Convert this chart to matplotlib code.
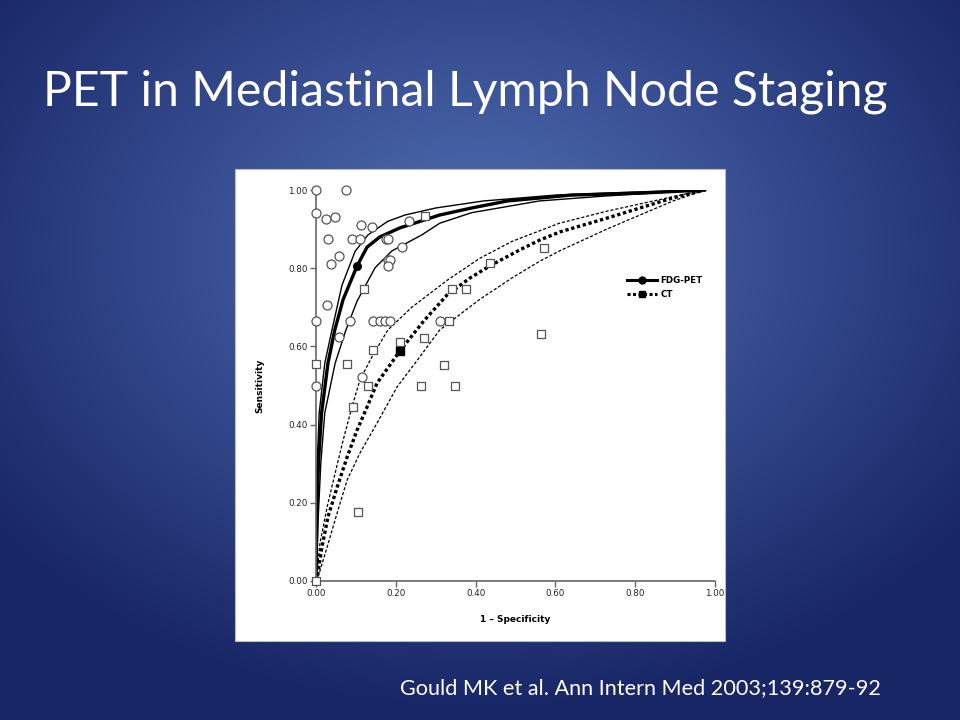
import numpy as np
import matplotlib
matplotlib.use("Agg")
from matplotlib import pyplot as plt
from matplotlib.patches import Rectangle
from matplotlib.lines import Line2D

# individual studies (1 - specificity, sensitivity)
pet_fpr = [0.00, 0.075, 0.00, 0.025, 0.048, 0.03, 0.113, 0.14, 0.09, 0.11,
           0.058, 0.038, 0.175, 0.18, 0.215, 0.233, 0.18, 0.186, 0.18, 0.028,
           0.00, 0.085, 0.143, 0.16, 0.173, 0.185, 0.31, 0.058, 0.115, 0.00]
pet_sens = [1.00, 1.00, 0.94, 0.925, 0.93, 0.875, 0.91, 0.905, 0.875, 0.875,
            0.83, 0.81, 0.875, 0.875, 0.855, 0.92, 0.82, 0.82, 0.805, 0.707,
            0.665, 0.665, 0.665, 0.665, 0.665, 0.665, 0.665, 0.625, 0.522, 0.50]

ct_fpr = [0.273, 0.12, 0.341, 0.376, 0.436, 0.571, 0.333, 0.271, 0.21, 0.143,
          0.00, 0.078, 0.321, 0.13, 0.263, 0.348, 0.564, 0.093, 0.105, 0.00]
ct_sens = [0.934, 0.747, 0.747, 0.747, 0.813, 0.852, 0.665, 0.621, 0.61, 0.59,
           0.555, 0.555, 0.552, 0.50, 0.50, 0.50, 0.632, 0.445, 0.176, 0.00]

# summary points
pet_sum = (0.103, 0.806)
ct_sum = (0.21, 0.588)

# summary ROC curves
pet_x = [0, 0.002, 0.006, 0.014, 0.03, 0.047, 0.068, 0.103, 0.128, 0.16, 0.21,
         0.31, 0.39, 0.48, 0.64, 0.81, 0.975]
pet_y = [0, 0.15, 0.3, 0.43, 0.557, 0.642, 0.72, 0.806, 0.854, 0.88, 0.903,
         0.936, 0.954, 0.972, 0.987, 0.992, 1.0]
pet_hi_x = [0, 0.001, 0.003, 0.008, 0.022, 0.04, 0.065, 0.098, 0.13, 0.18,
            0.223, 0.3, 0.42, 0.6, 0.8, 0.975]
pet_hi_y = [0, 0.15, 0.3, 0.43, 0.557, 0.642, 0.756, 0.843, 0.885, 0.92,
            0.936, 0.954, 0.972, 0.987, 0.995, 1.0]
pet_lo_x = [0, 0.005, 0.012, 0.022, 0.048, 0.075, 0.103, 0.148, 0.19, 0.265,
            0.31, 0.39, 0.56, 0.73, 0.975]
pet_lo_y = [0, 0.15, 0.3, 0.43, 0.557, 0.642, 0.716, 0.801, 0.844, 0.885,
            0.915, 0.942, 0.972, 0.985, 1.0]

ct_x = [0, 0.003, 0.015, 0.03, 0.053, 0.078, 0.103, 0.128, 0.153, 0.21,
        0.27, 0.328, 0.386, 0.436, 0.511, 0.561, 0.612, 0.729, 0.895, 0.975]
ct_y = [0, 0.01, 0.087, 0.164, 0.24, 0.317, 0.386, 0.445, 0.506, 0.588,
        0.665, 0.731, 0.775, 0.806, 0.847, 0.872, 0.893, 0.928, 0.98, 1.0]
ct_hi_x = [0, 0.01, 0.028, 0.048, 0.068, 0.09, 0.11, 0.14, 0.18, 0.24, 0.33,
           0.41, 0.49, 0.61, 0.73, 0.895, 0.975]
ct_hi_y = [0, 0.097, 0.19, 0.276, 0.36, 0.445, 0.514, 0.573, 0.642, 0.70, 0.77,
           0.825, 0.868, 0.915, 0.946, 0.983, 1.0]
ct_lo_x = [0, 0.005, 0.028, 0.053, 0.078, 0.11, 0.153, 0.203, 0.26, 0.31, 0.41,
           0.494, 0.561, 0.612, 0.729, 0.895, 0.975]
ct_lo_y = [0, 0.01, 0.087, 0.174, 0.258, 0.327, 0.404, 0.496, 0.573, 0.642,
           0.72, 0.777, 0.818, 0.845, 0.9, 0.972, 1.0]

ticks = [0.0, 0.2, 0.4, 0.6, 0.8, 1.0]

fig = plt.figure(figsize=(9.6, 7.2), dpi=100)

# slide background: radial blue gradient
bg = fig.add_axes([0, 0, 1, 1])
bg.set_axis_off()
gx, gy = np.meshgrid(np.linspace(0, 1, 480), np.linspace(0, 1, 360))
r = np.sqrt(((gx - 0.5) / 0.75) ** 2 + ((gy - 0.35) / 0.75) ** 2)
r = np.clip(r / 0.85, 0, 1)
inner = np.array([82, 112, 182]) / 255
outer = np.array([24, 38, 102]) / 255
img = inner[None, None, :] * (1 - r[..., None]) + outer[None, None, :] * r[..., None]
bg.imshow(img, extent=[0, 1, 0, 1], aspect='auto', origin='upper', zorder=0)
bg.set_xlim(0, 1)
bg.set_ylim(0, 1)

# white panel holding the figure
bg.add_patch(Rectangle((235 / 960, 1 - 641 / 720), 490 / 960, 472 / 720,
                       facecolor='white', edgecolor='#bbbbbb', lw=0.8, zorder=1))

bg.text(43 / 960, 1 - 92 / 720, "PET in Mediastinal Lymph Node Staging",
        color='white', fontsize=34.7, family='Lato', va='center', ha='left')
bg.text(400 / 960, 1 - 688 / 720, "Gould MK et al. Ann Intern Med 2003;139:879-92",
        color='white', fontsize=15.6, family='Lato', va='center', ha='left')

ax = fig.add_axes([316 / 960, 1 - 581 / 720, 399 / 960, 391 / 720])
ax.set_facecolor('none')
ax.set_xlim(0, 1)
ax.set_ylim(0, 1)

# PET curves
ax.plot(pet_hi_x, pet_hi_y, color='black', lw=1.0)
ax.plot(pet_lo_x, pet_lo_y, color='black', lw=1.0)
ax.plot(pet_x, pet_y, color='black', lw=2.4, solid_capstyle='round')

# CT curves
ax.plot(ct_hi_x, ct_hi_y, color='black', lw=0.9, linestyle=(0, (2.5, 1.5)))
ax.plot(ct_lo_x, ct_lo_y, color='black', lw=0.9, linestyle=(0, (2.5, 1.5)))
ax.plot(ct_x, ct_y, color='black', lw=2.4, linestyle=(0, (1, 0.8)))

ax.scatter(pet_fpr, pet_sens, s=42, marker='o', facecolor='white',
           edgecolor='#555555', lw=0.9, zorder=4, clip_on=False)
ax.scatter(ct_fpr, ct_sens, s=38, marker='s', facecolor='white',
           edgecolor='#555555', lw=0.9, zorder=4, clip_on=False)
ax.scatter([pet_sum[0]], [pet_sum[1]], s=30, marker='o', color='black', zorder=5)
ax.scatter([ct_sum[0]], [ct_sum[1]], s=30, marker='s', color='black', zorder=5)

for s in ['top', 'right']:
    ax.spines[s].set_visible(False)
for s in ['left', 'bottom']:
    ax.spines[s].set_color('#666666')
    ax.spines[s].set_linewidth(1.2)
ax.set_xticks(ticks)
ax.set_yticks(ticks)
ax.set_xticklabels([f"{t:.2f}" for t in ticks])
ax.set_yticklabels([f"{t:.2f}" for t in ticks])
ax.tick_params(direction='out', length=4, width=1, color='#666666',
               labelsize=6.3, labelcolor='#222222', pad=2)
ax.set_xlabel("1 – Specificity", fontsize=6.5, fontweight='bold', labelpad=12)
ax.set_ylabel("Sensitivity", fontsize=6.5, fontweight='bold', labelpad=17)

# legend
handles = [Line2D([0], [0], color='black', lw=2.2, marker='o', markersize=5),
           Line2D([0], [0], color='black', lw=2.2, linestyle=(0, (1, 0.8)),
                  marker='s', markersize=5)]
ax.legend(handles, ['FDG-PET', 'CT'], loc='upper left',
          bbox_to_anchor=(0.76, 0.80), frameon=False,
          handlelength=3.4, handletextpad=0.4, labelspacing=0.6,
          prop={'weight': 'bold', 'size': 6.3})

fig.savefig("out.png", dpi=100)
